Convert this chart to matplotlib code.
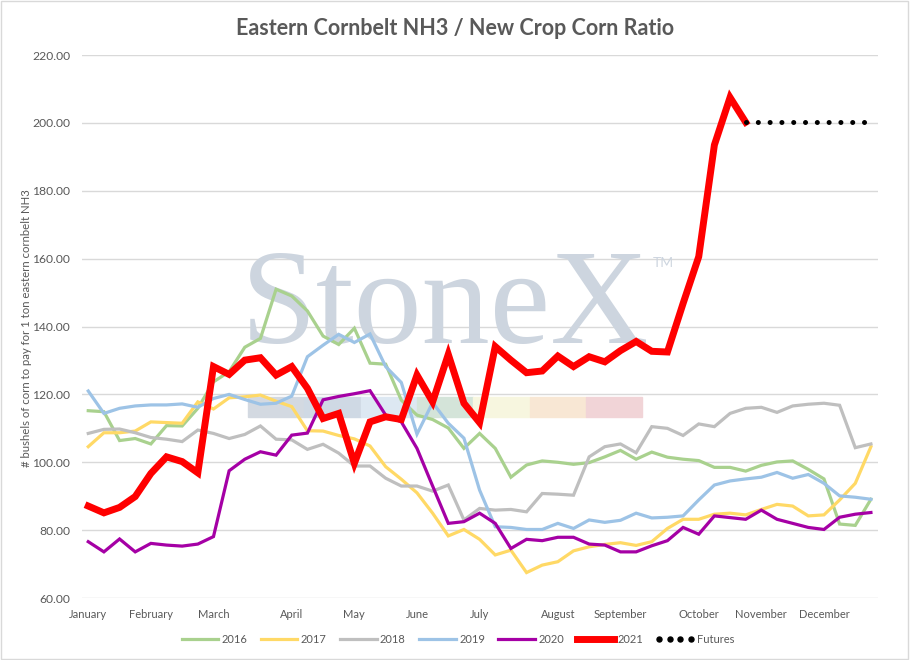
import matplotlib
matplotlib.use("Agg")
import matplotlib.pyplot as plt
from matplotlib.lines import Line2D
from matplotlib.patches import Rectangle
from matplotlib.legend_handler import HandlerLine2D

plt.rcParams['font.family'] = ['Lato', 'DejaVu Sans']

# weekly values, one list per year
y2016 = [115.2, 114.9, 106.4, 107.0, 105.4, 110.8, 110.7, 115.9, 123.7, 126.7,
         133.9, 136.5, 151.0, 149.0, 144.6, 137.2, 134.7, 139.5, 129.2, 128.9,
         118.3, 113.9, 112.6, 110.1, 104.1, 108.5, 104.1, 95.6, 99.2, 100.4,
         100.0, 99.4, 99.9, 101.6, 103.5, 100.9, 103.0, 101.5, 100.9, 100.5,
         98.5, 98.5, 97.4, 99.1, 100.1, 100.4, 97.9, 95.1, 81.8, 81.4, 89.1]
y2017 = [104.6, 108.7, 108.7, 109.2, 111.9, 111.7, 111.5, 117.8, 115.7, 119.0,
         119.3, 119.8, 118.0, 116.4, 109.3, 109.2, 107.9, 106.9, 104.8, 98.7,
         95.0, 91.0, 85.0, 78.3, 80.2, 77.3, 72.7, 74.1, 67.5, 69.7,
         70.7, 73.9, 75.1, 75.8, 76.3, 75.5, 76.6, 80.5, 83.2, 83.2,
         84.7, 85.0, 84.5, 86.1, 87.6, 87.1, 84.2, 84.5, 88.9, 93.8, 104.6]
y2018 = [108.5, 109.7, 109.8, 108.7, 107.3, 106.8, 106.1, 109.5, 108.5, 107.0,
         108.2, 110.7, 106.8, 106.6, 103.8, 105.3, 102.7, 98.9, 98.9, 95.3,
         93.0, 93.0, 91.5, 93.3, 83.0, 86.4, 85.9, 86.1, 85.4, 90.8,
         90.6, 90.3, 101.6, 104.6, 105.4, 102.8, 110.5, 110.0, 107.9, 111.3,
         110.5, 114.4, 115.9, 116.2, 114.7, 116.6, 117.1, 117.4, 116.8, 104.3, 105.4]
y2019 = [121.0, 114.4, 115.9, 116.6, 116.9, 116.9, 117.2, 116.2, 118.8, 120.0,
         118.5, 117.1, 117.4, 119.5, 131.1, 134.5, 137.7, 135.3, 137.8, 128.2,
         123.5, 108.3, 117.6, 111.5, 107.1, 91.8, 81.0, 80.8, 80.2, 80.2,
         82.0, 80.5, 83.0, 82.3, 82.9, 85.0, 83.6, 83.8, 84.2, 88.9,
         93.3, 94.5, 95.1, 95.6, 97.0, 95.3, 96.4, 93.8, 90.1, 89.7, 89.1]
y2020 = [76.6, 73.6, 77.4, 73.6, 76.1, 75.6, 75.3, 75.9, 78.1, 97.5,
         100.9, 103.1, 102.1, 108.0, 108.6, 118.4, 119.4, 120.2, 121.1, 113.9,
         111.9, 104.1, 93.0, 82.0, 82.5, 85.0, 82.0, 74.6, 77.3, 76.9,
         77.9, 77.9, 75.9, 75.6, 73.6, 73.6, 75.4, 76.9, 80.8, 78.8,
         84.2, 83.7, 83.2, 85.9, 83.2, 82.0, 80.8, 80.2, 83.8, 84.7, 85.2]
y2021 = [87.1, 85.1, 86.7, 89.9, 96.7, 101.6, 100.2, 96.9, 128.2, 125.9,
         130.1, 130.8, 125.7, 128.2, 121.8, 112.9, 114.4, 99.7, 111.9, 113.4,
         112.6, 125.7, 117.8, 131.8, 117.4, 111.7, 134.1, 130.1, 126.4, 126.9,
         131.3, 128.2, 131.1, 129.6, 132.9, 135.6, 132.7, 132.5, 146.8, 160.6,
         193.5, 207.5, 200.2]
futures = [200.3] * 9          # weeks 42..50
futures_start = 42

months = ["January", "February", "March", "April", "May", "June", "July",
          "August", "September", "October", "November", "December"]
month_week = [0, 4, 8, 13, 17, 21, 25, 30, 34, 39, 43, 47]

series = [("2016", y2016, "#a9d18e", 2.3),
          ("2017", y2017, "#ffd966", 2.3),
          ("2018", y2018, "#bfbfbf", 2.3),
          ("2019", y2019, "#9dc3e6", 2.3),
          ("2020", y2020, "#a500a5", 2.3),
          ("2021", y2021, "#ff0000", 5.0)]

fig = plt.figure(figsize=(9.1, 6.6), dpi=100)
fig.patches.append(Rectangle((0.001, 0.001), 0.997, 0.997, transform=fig.transFigure,
                             fill=False, edgecolor="#d9d9d9", linewidth=1))
ax = fig.add_axes([0.0901, 0.0939, 0.8747, 0.8227])

# StoneX watermark, kept behind the lines
ax.text(0.489, 0.480, "StoneX", family="Liberation Serif", fontsize=98,
        color="#cdd5df", ha="center", va="baseline", zorder=1,
        transform=fig.transFigure, clip_on=False)
ax.text(0.729, 0.595, "TM", fontsize=10, color="#cdd5df", ha="center", zorder=1,
        transform=fig.transFigure, clip_on=False)
strip = ["#d3d9e1", "#cfd9e4", "#dde8f2", "#d4e4d9", "#f7f6df", "#f8e7d4", "#f1d4d7"]
for k, c in enumerate(strip):
    ax.add_patch(Rectangle(((248 + 56.3 * k) / 910, 0.368), 56.3 / 910, 0.0303,
                           transform=fig.transFigure, color=c, zorder=1, clip_on=False))

for name, vals, col, lw in series:
    ax.plot(range(len(vals)), vals, color=col, linewidth=lw, label=name,
            solid_joinstyle="miter", zorder=3)
ax.plot(range(futures_start, futures_start + len(futures)), futures, color="black",
        linewidth=3.6, linestyle=(0, (0.01, 2.35)), dash_capstyle="round", zorder=3)

ax.set_xlim(-0.4, 50.45)
ax.set_ylim(60, 220)
ax.set_yticks(range(60, 221, 20))
ax.set_yticklabels([f"{v:.2f}" for v in range(60, 221, 20)])
ax.set_xticks(month_week)
ax.set_xticklabels(months)
ax.tick_params(length=0, labelsize=8, labelcolor="#595959")
ax.tick_params(axis="x", pad=8)
ax.tick_params(axis="y", pad=8.5, labelsize=8.7)
ax.grid(axis="y", color="#d9d9d9", linewidth=1)
ax.set_axisbelow(True)
for s in ax.spines.values():
    s.set_visible(False)
ax.patch.set_alpha(0)

ax.set_ylabel("# bushels of corn to pay for 1 ton eastern cornbelt NH3",
              fontsize=8.2, color="#595959")
ax.yaxis.set_label_coords(-0.063, 0.497)
fig.suptitle("Eastern Cornbelt NH3 / New Crop Corn Ratio", fontsize=15.5,
             fontweight="bold", color="#595959", y=0.973)

handles, labels = ax.get_legend_handles_labels()
fut_handle = Line2D([], [], linestyle="none", marker="o", markersize=3.6,
                    color="black")
handles.append(fut_handle)
labels.append("Futures")
leg = fig.legend(handles, labels, loc="center", bbox_to_anchor=(0.503, 0.031), ncol=7,
                 frameon=False, fontsize=8, handlelength=3.3, columnspacing=1.2,
                 handletextpad=0.3, labelcolor="#595959",
                 handler_map={fut_handle: HandlerLine2D(numpoints=4, marker_pad=0.2)})

fig.savefig("out.png", dpi=100)
